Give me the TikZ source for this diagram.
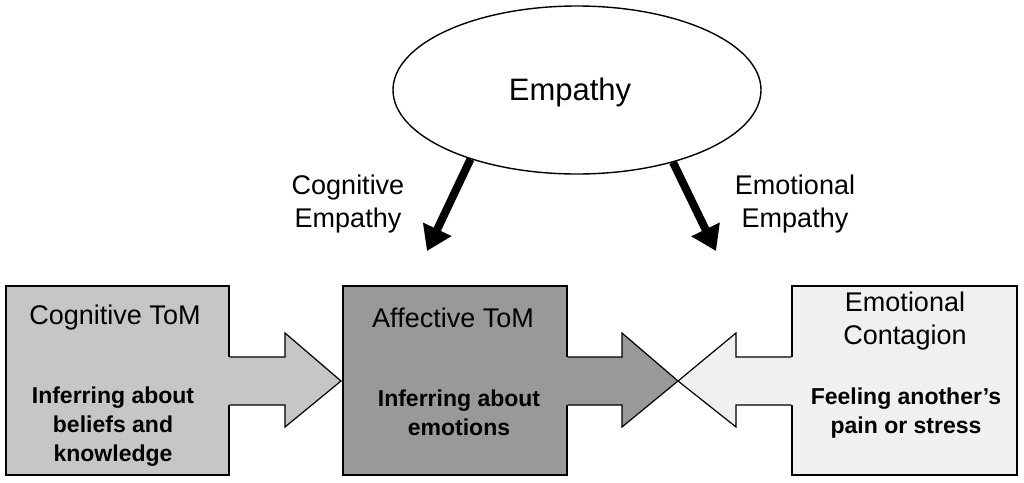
\documentclass[tikz,border=0pt]{standalone}
\usepackage{fontspec}
\setmainfont{Liberation Sans}
\usetikzlibrary{shapes.geometric,arrows.meta}
\definecolor{gA}{RGB}{198,198,198}
\definecolor{gB}{RGB}{153,153,153}
\definecolor{gC}{RGB}{240,240,240}
\tikzset{
  box/.style={draw=black, line width=1.2pt, rectangle, minimum height=189pt, inner sep=0pt},
  reg/.style={font=\fontsize{27}{33}\selectfont, align=center, inner sep=0pt},
  bld/.style={font=\fontsize{23}{29}\selectfont\bfseries, align=center, inner sep=0pt},
  bigarrow/.style={line width=8pt, -{Triangle[length=24pt,width=30pt]}},
  outline/.style={draw=black, line width=1.2pt, line join=miter}
}
\begin{document}
\begin{tikzpicture}[x=1pt,y=-1pt]
\useasboundingbox (0,0) rectangle (1024,482);
% ellipse
\node[draw=black, line width=1.4pt, ellipse, minimum width=368pt, minimum height=168pt, inner sep=0pt, fill=white] (emp) at (577,90) {};
\node[reg, font=\fontsize{31}{36}\selectfont] (empt) at (570,92) {Empathy};
\coordinate (cl) at (427,251);
\coordinate (cr) at (716,251);
\draw[bigarrow] (emp.213) -- (cl);
\draw[bigarrow] (emp.323) -- (cr);
\node[reg] (lcog) at (348,204) {Cognitive\\Empathy};
\node[reg] (lemo) at (795,204) {Emotional\\Empathy};
% boxes
\node[box, fill=gA, minimum width=223pt] (b1) at (117.5,380.5) {};
\node[box, fill=gB, minimum width=224pt] (b2) at (455,380.5) {};
\node[box, fill=gC, minimum width=225pt] (b3) at (904.5,380.5) {};
% block arrows
\fill[gA] (224,357) -- (285,357) -- (285,333) -- (341,381) -- (285,427) -- (285,405) -- (224,405) -- cycle;
\draw[outline] (b1.east |- 0,357) -- (285,357) -- (285,333) -- (341,381) -- (285,427) -- (285,405) -- (b1.east |- 0,405);
\fill[gB] (562,357) -- (622,357) -- (622,333) -- (678,381) -- (622,427) -- (622,405) -- (562,405) -- cycle;
\draw[outline] (b2.east |- 0,357) -- (622,357) -- (622,333) -- (678,381) -- (622,427) -- (622,405) -- (b2.east |- 0,405);
\fill[gC] (797,357) -- (736,357) -- (736,333) -- (678,381) -- (736,427) -- (736,405) -- (797,405) -- cycle;
\draw[outline] (b3.west |- 0,357) -- (736,357) -- (736,333) -- (678,381) -- (736,427) -- (736,405) -- (b3.west |- 0,405);
% box texts
\node[reg] (t1) at (115,318) {Cognitive ToM};
\node[bld] (s1) at (113,427) {Inferring about\\beliefs and\\knowledge};
\node[reg] (t2) at (453,318) {Affective ToM};
\node[bld] (s2) at (459,413) {Inferring about\\emotions};
\node[reg] (t3) at (905,321) {Emotional\\Contagion};
\node[bld] (s3) at (906,413) {Feeling another’s\\pain or stress};
\end{tikzpicture}
\end{document}
